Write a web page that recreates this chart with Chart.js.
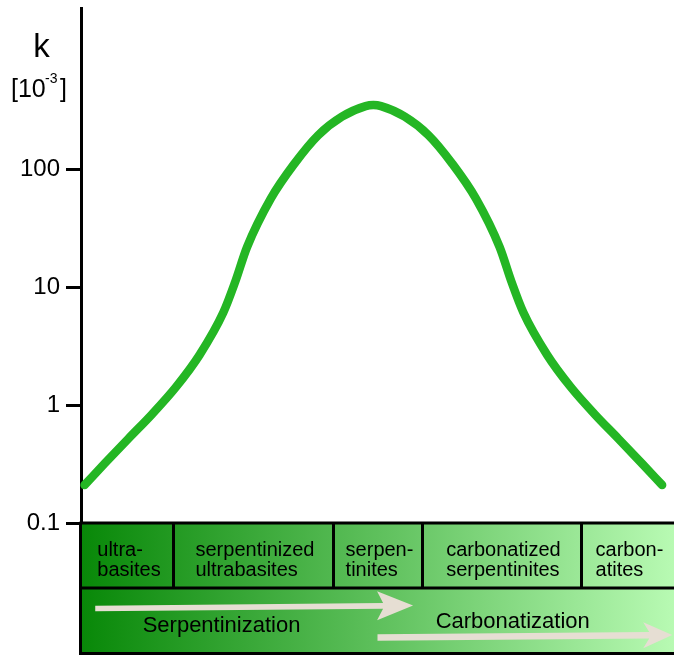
<!DOCTYPE html>
<html>
<head>
<meta charset="utf-8">
<script src="https://cdn.jsdelivr.net/npm/chart.js@4.4.0/dist/chart.umd.min.js"></script>
<style>
  html, body { margin: 0; padding: 0; background: #ffffff; }
  #wrap { width: 674px; height: 655px; }
</style>
</head>
<body>
<div id="wrap"><canvas id="chart" width="674" height="655"></canvas></div>
<script>
// Position along the alteration sequence (0 = ultrabasites ... 100 = carbonatites)
const position = [0.6, 4, 8, 12, 16, 20, 24, 26, 28, 32, 36, 40, 44, 48, 49.3,
                  50.6, 54.6, 58.6, 62.6, 66.6, 70.6, 72.6, 74.6, 78.6, 82.6, 86.6, 90.6, 94.6, 98.0];
// Magnetic susceptibility k [10^-3 SI]
const susceptibility = [0.21, 0.32, 0.52, 0.84, 1.42, 2.67, 6.1, 11.1, 21.9, 56.5, 112, 195, 280, 344, 351,
                        344, 280, 195, 112, 56.5, 21.9, 11.1, 6.1, 2.67, 1.42, 0.84, 0.52, 0.32, 0.21];
// Labelled decades on the k axis
const yTicks = [0.1, 1, 10, 100];
// Rock types along the sequence and the boundaries between them
const rockTypes = [['ultra-', 'basites'], ['serpentinized', 'ultrabasites'], ['serpen-', 'tinites'],
                   ['carbonatized', 'serpentinites'], ['carbon-', 'atites']];
const rockBounds = [0, 15.5, 42.5, 57.5, 84.3, 100];
// Alteration processes
const processes = ['Serpentinization', 'Carbonatization'];

const FONT = "'Liberation Sans', Arial, Helvetica, sans-serif";

function drawArrow(ctx, x0, y0, xTip, yTip, headLen, headHalf, shaftHalf) {
  const slope = (yTip - y0) / (xTip - x0);
  const xb = xTip - headLen;
  const yb = y0 + slope * (xb - x0);
  const notch = 6;
  ctx.beginPath();
  ctx.moveTo(x0, y0 - shaftHalf);
  ctx.lineTo(xb + notch, yb - shaftHalf);
  ctx.lineTo(xb, yb - headHalf);
  ctx.lineTo(xTip, yTip);
  ctx.lineTo(xb, yb + headHalf);
  ctx.lineTo(xb + notch, yb + shaftHalf);
  ctx.lineTo(x0, y0 + shaftHalf);
  ctx.closePath();
  ctx.fill();
}

// Draws the rock-type strip, process strip and the k unit label
const sequencePlugin = {
  id: 'sequenceStrip',
  afterDraw(chart) {
    const { ctx, chartArea: area, scales: { x } } = chart;
    const left = x.getPixelForValue(rockBounds[0]);
    const right = x.getPixelForValue(rockBounds[rockBounds.length - 1]);
    const rowTop = area.bottom;
    const rowMid = rowTop + 65;
    const rowBottom = chart.height;

    ctx.save();
    const grad = ctx.createLinearGradient(left, 0, right, 0);
    grad.addColorStop(0, '#088808');
    grad.addColorStop(0.5, '#5ec05c');
    grad.addColorStop(1, '#b8fab3');
    ctx.fillStyle = grad;
    ctx.fillRect(left, rowTop, right - left, rowBottom - rowTop);

    // arrows
    ctx.fillStyle = '#e6ded3';
    drawArrow(ctx, x.getPixelForValue(2.4), 608.5, x.getPixelForValue(56), 605.5, 36, 14.5, 2.8);
    drawArrow(ctx, x.getPixelForValue(50), 637.5, x.getPixelForValue(99.7), 635, 29, 13, 3.3);

    // borders
    ctx.strokeStyle = '#000';
    ctx.lineWidth = 3;
    ctx.beginPath();
    ctx.moveTo(left - 1.5, rowTop); ctx.lineTo(right, rowTop);
    ctx.moveTo(left - 1.5, rowMid); ctx.lineTo(right, rowMid);
    ctx.moveTo(left - 1.5, rowBottom - 1.5); ctx.lineTo(right, rowBottom - 1.5);
    ctx.moveTo(left - 0.5, rowTop); ctx.lineTo(left - 0.5, rowBottom);
    for (let i = 1; i < rockBounds.length - 1; i++) {
      const bx = Math.round(x.getPixelForValue(rockBounds[i])) + 0.5;
      ctx.moveTo(bx, rowTop); ctx.lineTo(bx, rowMid);
    }
    ctx.stroke();

    // rock-type names
    ctx.fillStyle = '#000';
    ctx.font = '20px ' + FONT;
    ctx.textAlign = 'left';
    ctx.textBaseline = 'alphabetic';
    rockTypes.forEach((lines, i) => {
      const cx = (x.getPixelForValue(rockBounds[i]) + x.getPixelForValue(rockBounds[i + 1])) / 2;
      const w = Math.max(...lines.map(t => ctx.measureText(t).width));
      lines.forEach((t, j) => ctx.fillText(t, cx - w / 2 + 2, rowTop + 33 + j * 20));
    });

    // process names
    ctx.font = '22px ' + FONT;
    ctx.textAlign = 'center';
    ctx.fillText(processes[0], x.getPixelForValue(23.7), 632);
    ctx.fillText(processes[1], x.getPixelForValue(72.8), 628);

    // axis unit label
    ctx.textAlign = 'center';
    ctx.font = '33px ' + FONT;
    ctx.fillText('k', 41.5, 57);
    ctx.textAlign = 'left';
    ctx.font = '25px ' + FONT;
    ctx.fillText('[10', 11, 97);
    ctx.font = '14px ' + FONT;
    ctx.fillText('-3', 45, 83);
    ctx.font = '25px ' + FONT;
    ctx.fillText(']', 60, 97);
    ctx.restore();
  }
};

new Chart(document.getElementById('chart'), {
  type: 'line',
  data: {
    datasets: [{
      data: position.map((p, i) => ({ x: p, y: susceptibility[i] })),
      borderColor: '#24b624',
      borderWidth: 8.5,
      borderCapStyle: 'round',
      borderJoinStyle: 'round',
      pointRadius: 0,
      cubicInterpolationMode: 'monotone',
      fill: false,
      clip: false
    }]
  },
  options: {
    responsive: false,
    animation: false,
    devicePixelRatio: 1,
    layout: { padding: { top: 8, bottom: 132, left: 0, right: 0 } },
    plugins: { legend: { display: false }, tooltip: { enabled: false } },
    scales: {
      x: { type: 'linear', min: 0, max: 100, display: false },
      y: {
        type: 'logarithmic',
        position: 'left',
        min: 0.1,
        max: 2340,
        afterBuildTicks(scale) { scale.ticks = yTicks.map(v => ({ value: v })); },
        afterFit(scale) { scale.width = 81; scale.paddingTop = 0; scale.paddingBottom = 0; },
        ticks: {
          callback: v => String(v),
          color: '#000',
          font: { family: FONT, size: 24 },
          padding: 6
        },
        grid: { drawOnChartArea: false, tickLength: 15, tickWidth: 3, tickColor: '#000' },
        border: { display: true, color: '#000', width: 3 }
      }
    }
  },
  plugins: [sequencePlugin]
});
</script>
</body>
</html>
